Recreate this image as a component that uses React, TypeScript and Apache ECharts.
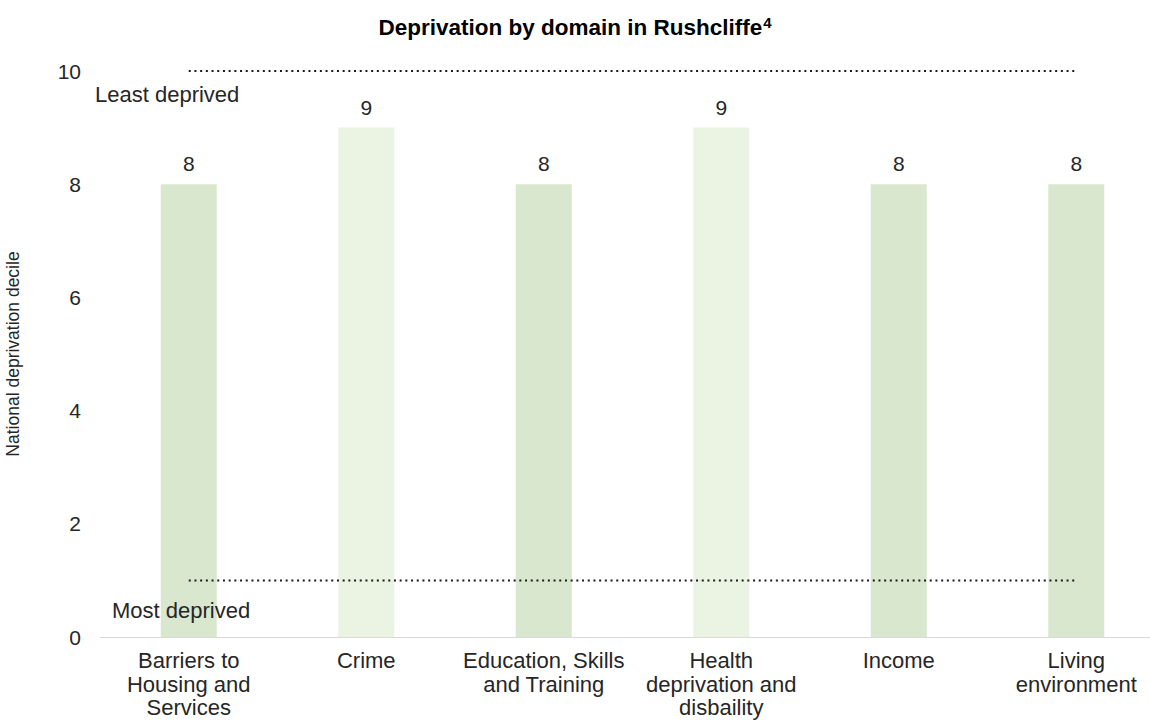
import React, { useEffect, useRef } from "react";
import * as echarts from "echarts";

const categories = [
  "Barriers to\nHousing and\nServices",
  "Crime",
  "Education, Skills\nand Training",
  "Health\ndeprivation and\ndisbaility",
  "Income",
  "Living\nenvironment",
];
const deciles = [8, 9, 8, 9, 8, 8];
const leastDeprivedLine = [10, 10, 10, 10, 10, 10];
const mostDeprivedLine = [1, 1, 1, 1, 1, 1];
const yTicks = { min: 0, max: 10, interval: 2 };

const FONT = "'Liberation Sans', Arial, sans-serif";
const TEXT = "#262626";

export default function App() {
  const ref = useRef<HTMLDivElement>(null);
  useEffect(() => {
    if (!ref.current) return;
    const chart = echarts.init(ref.current, undefined, { renderer: "svg" });
    chart.setOption({
      animation: false,
      textStyle: { fontFamily: FONT },
      title: {
        text: "{b|Deprivation by domain in Rushcliffe}{s|4}",
        left: "center",
        top: 10,
        textStyle: {
          rich: {
            b: { fontSize: 22.5, fontWeight: "bold", color: "#000", fontFamily: FONT },
            s: { fontSize: 15, color: "#000", fontFamily: FONT, verticalAlign: "top", padding: [0, 0, 9, 1] },
          },
        },
      },
      grid: { left: 100, top: 71, right: -15, bottom: 87, containLabel: false, outerBoundsMode: "none" },
      xAxis: {
        type: "category",
        data: categories,
        axisLine: { lineStyle: { color: "#d9d9d9", width: 1 } },
        axisTick: { show: false },
        axisLabel: { color: TEXT, fontSize: 22, lineHeight: 23.5, margin: 12, interval: 0 },
      },
      yAxis: {
        type: "value",
        min: yTicks.min,
        max: yTicks.max,
        interval: yTicks.interval,
        splitLine: { show: false },
        axisLine: { show: false },
        axisTick: { show: false },
        axisLabel: { color: TEXT, fontSize: 21, margin: 19 },
        name: "National deprivation decile",
        nameLocation: "middle",
        nameRotate: 90,
        nameGap: 78,
        nameTextStyle: { color: TEXT, fontSize: 17.5 },
      },
      series: [
        {
          type: "bar",
          data: deciles.map((v) => ({
            value: v,
            itemStyle: { color: v === 9 ? "#ebf3e3" : "#d9e7cf" },
          })),
          barWidth: 56,
          label: { show: true, position: "top", distance: 10, color: TEXT, fontSize: 21 },
        },
        {
          type: "line",
          data: leastDeprivedLine,
          symbol: "none",
          lineStyle: { color: "#1a1a1a", width: 2, type: [2, 3.7] },
          silent: true,
        },
        {
          type: "line",
          data: mostDeprivedLine,
          symbol: "none",
          lineStyle: { color: "#1a1a1a", width: 2, type: [2, 3.7] },
          silent: true,
        },
      ],
      graphic: [
        { type: "text", left: 95, top: 83, z: 100, style: { text: "Least deprived", fontSize: 22, fill: TEXT, fontFamily: FONT } },
        { type: "text", left: 112, top: 599, z: 100, style: { text: "Most deprived", fontSize: 22, fill: TEXT, fontFamily: FONT } },
      ],
    });
    return () => chart.dispose();
  }, []);
  return (
    <div
      ref={ref}
      style={{ position: "fixed", left: 0, top: 0, width: 1150, height: 724, background: "#fff" }}
    />
  );
}
